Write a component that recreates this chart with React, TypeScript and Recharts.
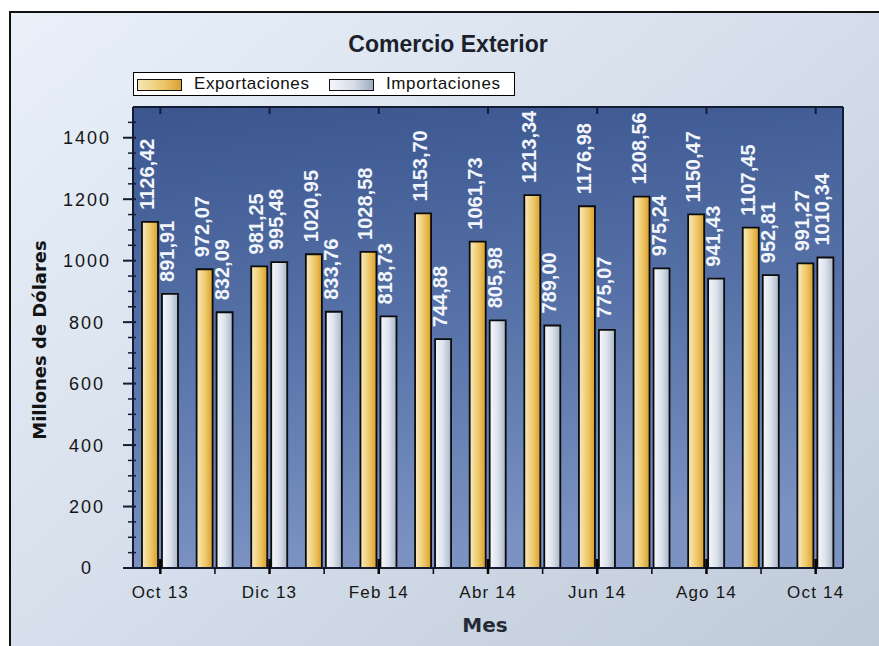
import React from 'react';
import { BarChart, Bar, XAxis, YAxis, CartesianGrid, Legend, LabelList } from 'recharts';

const months = ['Oct 13', 'Nov 13', 'Dic 13', 'Ene 14', 'Feb 14', 'Mar 14', 'Abr 14', 'May 14', 'Jun 14', 'Jul 14', 'Ago 14', 'Sep 14', 'Oct 14'];
const exportaciones = [1126.42, 972.07, 981.25, 1020.95, 1028.58, 1153.7, 1061.73, 1213.34, 1176.98, 1208.56, 1150.47, 1107.45, 991.27];
const importaciones = [891.91, 832.09, 995.48, 833.76, 818.73, 744.88, 805.98, 789.0, 775.07, 975.24, 941.43, 952.81, 1010.34];
const yTicks = [0, 50, 100, 150, 200, 250, 300, 350, 400, 450, 500, 550, 600, 650, 700, 750, 800, 850, 900, 950, 1000, 1050, 1100, 1150, 1200, 1250, 1300, 1350, 1400, 1450];
const yLabeled = [0, 200, 400, 600, 800, 1000, 1200, 1400];
const yDomain = [0, 1500];

const data = months.map((mes, i) => ({ mes, exportaciones: exportaciones[i], importaciones: importaciones[i] }));

const FONT = "'Liberation Sans', Arial, sans-serif";
const AXIS = '#141c34';
const W = 879;
const H = 646;
const M = { top: 106, right: 35, bottom: 77, left: 132 };

const fmt = (v: number) => v.toFixed(2).replace('.', ',');

const LeftTick = (p: any) => {
  const { x, y, payload } = p;
  const v = payload.value;
  const major = yLabeled.includes(v);
  return (
    <g>
      <line x1={x - (major ? 10 : 5)} x2={x + 3} y1={y} y2={y} stroke={AXIS} strokeWidth={major ? 2 : 1.5} />
      {major && (
        <text x={x - 46} y={y} dy="0.36em" textAnchor="middle" fontFamily={FONT} fontSize={18} fill="#151515" style={{ letterSpacing: 2 }}>
          {v}
        </text>
      )}
    </g>
  );
};

const RightTick = (p: any) => {
  const { x, y, payload } = p;
  const major = yLabeled.includes(payload.value);
  return <line x1={x - (major ? 8 : 5)} x2={x} y1={y} y2={y} stroke={AXIS} strokeWidth={major ? 2 : 1.5} />;
};

const BottomTick = (p: any) => {
  const { x, y, payload, index } = p;
  const major = index % 2 === 0;
  return (
    <g>
      <line x1={x} x2={x} y1={major ? y - 9 : y} y2={y + 6} stroke="#050505" strokeWidth={major ? 2.5 : 1.5} />
      {major && (
        <text x={x} y={y + 30} textAnchor="middle" fontFamily={FONT} fontSize={17} fill="#151515" style={{ letterSpacing: 1.2 }}>
          {payload.value}
        </text>
      )}
    </g>
  );
};

const TopTick = (p: any) => {
  const { x, y, index } = p;
  if (index % 2 !== 0) return <g />;
  return <line x1={x} x2={x} y1={y} y2={y + 7} stroke={AXIS} strokeWidth={2} />;
};

const makeLabel = (p: any) => {
  const { x, y, width, value } = p;
  const cx = Number(x) + Number(width) / 2 + 4;
  const ty = Number(y) - 12;
  return (
    <text x={cx} y={ty} transform={`rotate(-90 ${cx} ${ty})`} textAnchor="start" fontFamily={FONT} fontSize={20} fontWeight="bold" fill="#f2f5fb">
      {fmt(Number(value))}
    </text>
  );
};

const swatchBg: Record<string, string> = {
  exportaciones: 'linear-gradient(to right, #f6e7b6 0%, #ecc667 60%, #d9a233 100%)',
  importaciones: 'linear-gradient(to right, #f4f6fa 0%, #d6dde8 55%, #9eabbf 100%)',
};

const renderLegend = (p: any) => {
  const payload = p.payload || [];
  const pos = [
    { sw: 3, tx: 60 },
    { sw: 195, tx: 252 },
  ];
  return (
    <div style={{ position: 'relative', width: 382, height: 24, boxSizing: 'border-box', border: '1.5px solid #000', background: '#fff' }}>
      {payload.map((e: any, i: number) => (
        <React.Fragment key={i}>
          <div style={{ position: 'absolute', left: pos[i].sw, top: 5.5, width: 45, height: 12, boxSizing: 'border-box', border: '1.5px solid #111', background: swatchBg[e.dataKey] }} />
          <div style={{ position: 'absolute', left: pos[i].tx, top: 0, fontFamily: FONT, fontSize: 17, lineHeight: '21px', letterSpacing: 0.6, color: '#111', whiteSpace: 'nowrap' }}>
            {e.value}
          </div>
        </React.Fragment>
      ))}
    </div>
  );
};

export default function App() {
  return (
    <div style={{ position: 'fixed', left: 0, top: 0, width: W, height: H, overflow: 'hidden', background: '#fff' }}>
      <div
        style={{
          position: 'absolute',
          left: 9,
          top: 11,
          width: 900,
          height: 700,
          border: '2px solid #111',
          background: 'linear-gradient(140deg, #e9f0fa 0%, #d6dfeb 45%, #bcc7d6 100%)',
        }}
      />
      <div style={{ position: 'absolute', left: 0, top: 0 }}>
        <BarChart width={W} height={H} data={data} margin={M} barSize={16} barGap={4}>
          <defs>
            <linearGradient id="plotBg" x1="0" y1="0" x2="0.15" y2="1">
              <stop offset="0%" stopColor="#3b568f" />
              <stop offset="50%" stopColor="#5571a7" />
              <stop offset="100%" stopColor="#7b92c2" />
            </linearGradient>
            <linearGradient id="gExp" x1="0" y1="0" x2="1" y2="0">
              <stop offset="0%" stopColor="#f8ebc0" />
              <stop offset="55%" stopColor="#eec868" />
              <stop offset="100%" stopColor="#d89f2e" />
            </linearGradient>
            <linearGradient id="gImp" x1="0" y1="0" x2="1" y2="0">
              <stop offset="0%" stopColor="#f6f8fc" />
              <stop offset="50%" stopColor="#dde3ec" />
              <stop offset="100%" stopColor="#a8b5c8" />
            </linearGradient>
          </defs>
          <CartesianGrid xAxisId="b" yAxisId="l" horizontal={false} vertical={false} fill="url(#plotBg)" />
          <XAxis
            xAxisId="b"
            dataKey="mes"
            height={1}
            interval={0}
            tickSize={0}
            tickMargin={0}
            tickLine={false}
            axisLine={{ stroke: AXIS, strokeWidth: 2 }}
            tick={(p: any) => <BottomTick {...p} />}
          />
          <XAxis
            xAxisId="t"
            dataKey="mes"
            orientation="top"
            height={1}
            interval={0}
            tickSize={0}
            tickMargin={0}
            tickLine={false}
            axisLine={{ stroke: AXIS, strokeWidth: 2 }}
            tick={(p: any) => <TopTick {...p} />}
          />
          <YAxis
            yAxisId="l"
            width={1}
            domain={yDomain}
            ticks={yTicks}
            interval={0}
            tickSize={0}
            tickMargin={0}
            tickLine={false}
            axisLine={{ stroke: AXIS, strokeWidth: 2 }}
            tick={(p: any) => <LeftTick {...p} />}
          />
          <YAxis
            yAxisId="r"
            orientation="right"
            width={1}
            domain={yDomain}
            ticks={yTicks}
            interval={0}
            tickSize={0}
            tickMargin={0}
            tickLine={false}
            axisLine={{ stroke: AXIS, strokeWidth: 2 }}
            tick={(p: any) => <RightTick {...p} />}
          />
          <Legend
            verticalAlign="middle"
            align="center"
            layout="horizontal"
            content={renderLegend}
            wrapperStyle={{ position: 'absolute', left: 133, top: 72, width: 382, height: 24 }}
          />
          <Bar xAxisId="b" yAxisId="l" dataKey="exportaciones" name="Exportaciones" fill="url(#gExp)" stroke="#0c0c0c" strokeWidth={1.8} isAnimationActive={false}>
            <LabelList dataKey="exportaciones" content={makeLabel} />
          </Bar>
          <Bar xAxisId="b" yAxisId="l" dataKey="importaciones" name="Importaciones" fill="url(#gImp)" stroke="#0c0c0c" strokeWidth={1.8} isAnimationActive={false}>
            <LabelList dataKey="importaciones" content={makeLabel} />
          </Bar>
        </BarChart>
      </div>
      <svg width={W} height={H} style={{ position: 'absolute', left: 0, top: 0, pointerEvents: 'none' }}>
        <text x={448} y={52} textAnchor="middle" fontFamily={FONT} fontSize={23} fontWeight="bold" fill="#1c1f2c">
          Comercio Exterior
        </text>
        <text x={46} y={340} transform="rotate(-90 46 340)" textAnchor="middle" fontFamily="'DejaVu Sans', sans-serif" fontSize={18} fontWeight="bold" fill="#141414">
          Millones de Dólares
        </text>
        <text x={485} y={632} textAnchor="middle" fontFamily="'DejaVu Sans', sans-serif" fontSize={20} fontWeight="bold" fill="#262a36">
          Mes
        </text>
      </svg>
    </div>
  );
}
